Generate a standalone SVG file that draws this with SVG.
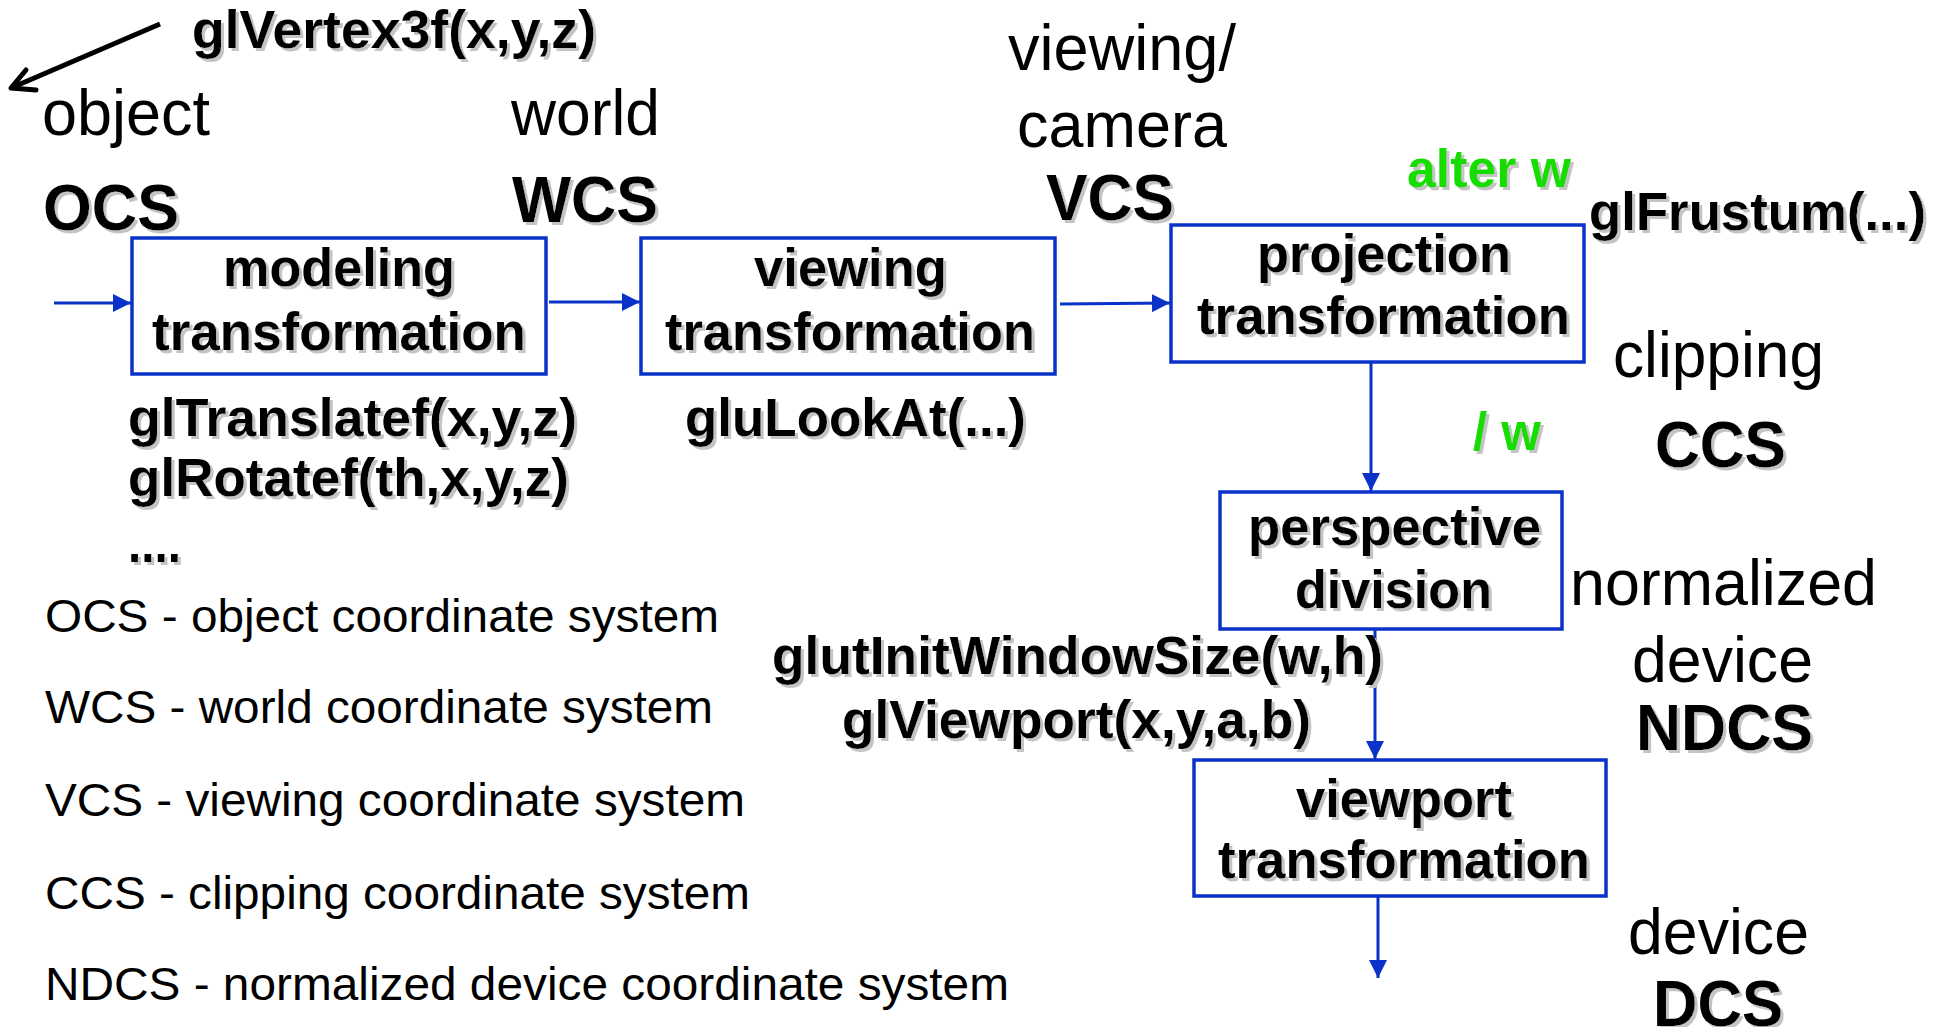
<svg xmlns="http://www.w3.org/2000/svg" width="1948" height="1027" viewBox="0 0 1948 1027">
  <defs>
    <style>
      text { font-family: "Liberation Sans", Arial, Helvetica, sans-serif; fill: #000; }
      .b { font-weight: bold; filter: url(#shadow); }
      .big { font-size: 65px; }
      .mid { font-size: 53px; }
      .leg { font-size: 46px; }
      .green { fill: #14dc00; }
      .box { fill: #fff; stroke: #0a32c8; stroke-width: 3.5; }
      .conn { fill: none; stroke: #0a32c8; stroke-width: 3; marker-end: url(#head); }
    </style>
    <filter id="shadow" x="-5%" y="-20%" width="115%" height="150%">
      <feOffset in="SourceAlpha" dx="3" dy="3" result="off"/>
      <feFlood flood-color="#c4c4c4"/>
      <feComposite in2="off" operator="in" result="sh"/>
      <feMerge>
        <feMergeNode in="sh"/>
        <feMergeNode in="SourceGraphic"/>
      </feMerge>
    </filter>
    <marker id="head" markerUnits="userSpaceOnUse" markerWidth="18" markerHeight="18" viewBox="0 0 16 16" refX="16" refY="8" orient="auto">
      <path d="M0,0 L16,8 L0,16 Z" fill="#0a32c8"/>
    </marker>
  </defs>

  <rect width="1948" height="1027" fill="#fff"/>

  <!-- pipeline connectors -->
  <g id="connectors">
    <path class="conn" d="M54,303 H131"/>
    <path class="conn" d="M549,302 H640"/>
    <path class="conn" d="M1060,304 L1170,303"/>
    <path class="conn" d="M1371,362 V491"/>
    <path class="conn" d="M1375,629 V759"/>
    <path class="conn" d="M1378,896 V978"/>
    <!-- call pointer to the object system -->
    <path d="M160,24 L11,88" fill="none" stroke="#000" stroke-width="5"/>
    <path d="M26,70 L11,88 L36,90" fill="none" stroke="#000" stroke-width="5" stroke-linejoin="round" stroke-linecap="round"/>
  </g>

  <!-- transformation stages -->
  <g id="modeling">
    <rect class="box" x="132" y="238" width="414" height="136"/>
    <text class="b mid" x="223" y="286" textLength="232" lengthAdjust="spacingAndGlyphs">modeling</text>
    <text class="b mid" x="152" y="350" textLength="374" lengthAdjust="spacingAndGlyphs">transformation</text>
  </g>
  <g id="viewing">
    <rect class="box" x="641" y="238" width="414" height="136"/>
    <text class="b mid" x="754" y="286" textLength="193" lengthAdjust="spacingAndGlyphs">viewing</text>
    <text class="b mid" x="665" y="350" textLength="370" lengthAdjust="spacingAndGlyphs">transformation</text>
  </g>
  <g id="projection">
    <rect class="box" x="1171" y="225" width="413" height="137"/>
    <text class="b mid" x="1257" y="272" textLength="254" lengthAdjust="spacingAndGlyphs">projection</text>
    <text class="b mid" x="1197" y="334" textLength="373" lengthAdjust="spacingAndGlyphs">transformation</text>
  </g>
  <g id="perspective">
    <rect class="box" x="1220" y="492" width="342" height="137"/>
    <text class="b mid" x="1248" y="545" textLength="293" lengthAdjust="spacingAndGlyphs">perspective</text>
    <text class="b mid" x="1295" y="608" textLength="197" lengthAdjust="spacingAndGlyphs">division</text>
  </g>
  <g id="viewport">
    <rect class="box" x="1194" y="760" width="412" height="136"/>
    <text class="b mid" x="1296" y="817" textLength="216" lengthAdjust="spacingAndGlyphs">viewport</text>
    <text class="b mid" x="1218" y="878" textLength="372" lengthAdjust="spacingAndGlyphs">transformation</text>
  </g>

  <!-- coordinate system labels -->
  <g id="ocs-label">
    <text class="big" x="42" y="135" textLength="168" lengthAdjust="spacingAndGlyphs">object</text>
    <text class="b big" x="43" y="230" textLength="136" lengthAdjust="spacingAndGlyphs">OCS</text>
  </g>
  <g id="wcs-label">
    <text class="big" x="511" y="135" textLength="149" lengthAdjust="spacingAndGlyphs">world</text>
    <text class="b big" x="512" y="222" textLength="146" lengthAdjust="spacingAndGlyphs">WCS</text>
  </g>
  <g id="vcs-label">
    <text class="big" x="1008" y="70" textLength="228" lengthAdjust="spacingAndGlyphs">viewing/</text>
    <text class="big" x="1017" y="147" textLength="210" lengthAdjust="spacingAndGlyphs">camera</text>
    <text class="b big" x="1046" y="220" textLength="128" lengthAdjust="spacingAndGlyphs">VCS</text>
  </g>
  <g id="ccs-label">
    <text class="big" x="1613" y="377" textLength="211" lengthAdjust="spacingAndGlyphs">clipping</text>
    <text class="b big" x="1655" y="467" textLength="131" lengthAdjust="spacingAndGlyphs">CCS</text>
  </g>
  <g id="ndcs-label">
    <text class="big" x="1570" y="605" textLength="307" lengthAdjust="spacingAndGlyphs">normalized</text>
    <text class="big" x="1632" y="682" textLength="181" lengthAdjust="spacingAndGlyphs">device</text>
    <text class="b big" x="1636" y="750" textLength="177" lengthAdjust="spacingAndGlyphs">NDCS</text>
  </g>
  <g id="dcs-label">
    <text class="big" x="1628" y="954" textLength="181" lengthAdjust="spacingAndGlyphs">device</text>
    <text class="b big" x="1653" y="1026" textLength="130" lengthAdjust="spacingAndGlyphs">DCS</text>
  </g>

  <!-- OpenGL calls -->
  <g id="calls">
    <text class="b mid" x="192" y="48" textLength="404" lengthAdjust="spacingAndGlyphs">glVertex3f(x,y,z)</text>
    <text class="b mid" x="128" y="436" textLength="449" lengthAdjust="spacingAndGlyphs">glTranslatef(x,y,z)</text>
    <text class="b mid" x="128" y="496" textLength="441" lengthAdjust="spacingAndGlyphs">glRotatef(th,x,y,z)</text>
    <text class="b mid" x="128" y="562" textLength="53" lengthAdjust="spacingAndGlyphs">....</text>
    <text class="b mid" x="685" y="436" textLength="341" lengthAdjust="spacingAndGlyphs">gluLookAt(...)</text>
    <text class="b mid" x="1589" y="230" textLength="337" lengthAdjust="spacingAndGlyphs">glFrustum(...)</text>
    <text class="b mid" x="772" y="674" textLength="611" lengthAdjust="spacingAndGlyphs">glutInitWindowSize(w,h)</text>
    <text class="b mid" x="842" y="738" textLength="469" lengthAdjust="spacingAndGlyphs">glViewport(x,y,a,b)</text>
    <text class="b mid green" x="1407" y="187" textLength="164" lengthAdjust="spacingAndGlyphs">alter w</text>
    <text class="b mid green" x="1473" y="450" textLength="68" lengthAdjust="spacingAndGlyphs">/ w</text>
  </g>

  <!-- legend -->
  <g id="legend">
    <text class="leg" x="45" y="632" textLength="674" lengthAdjust="spacingAndGlyphs">OCS - object coordinate system</text>
    <text class="leg" x="45" y="723" textLength="668" lengthAdjust="spacingAndGlyphs">WCS - world coordinate system</text>
    <text class="leg" x="45" y="816" textLength="700" lengthAdjust="spacingAndGlyphs">VCS - viewing coordinate system</text>
    <text class="leg" x="45" y="909" textLength="705" lengthAdjust="spacingAndGlyphs">CCS - clipping coordinate system</text>
    <text class="leg" x="45" y="1000" textLength="964" lengthAdjust="spacingAndGlyphs">NDCS - normalized device coordinate system</text>
  </g>
</svg>
